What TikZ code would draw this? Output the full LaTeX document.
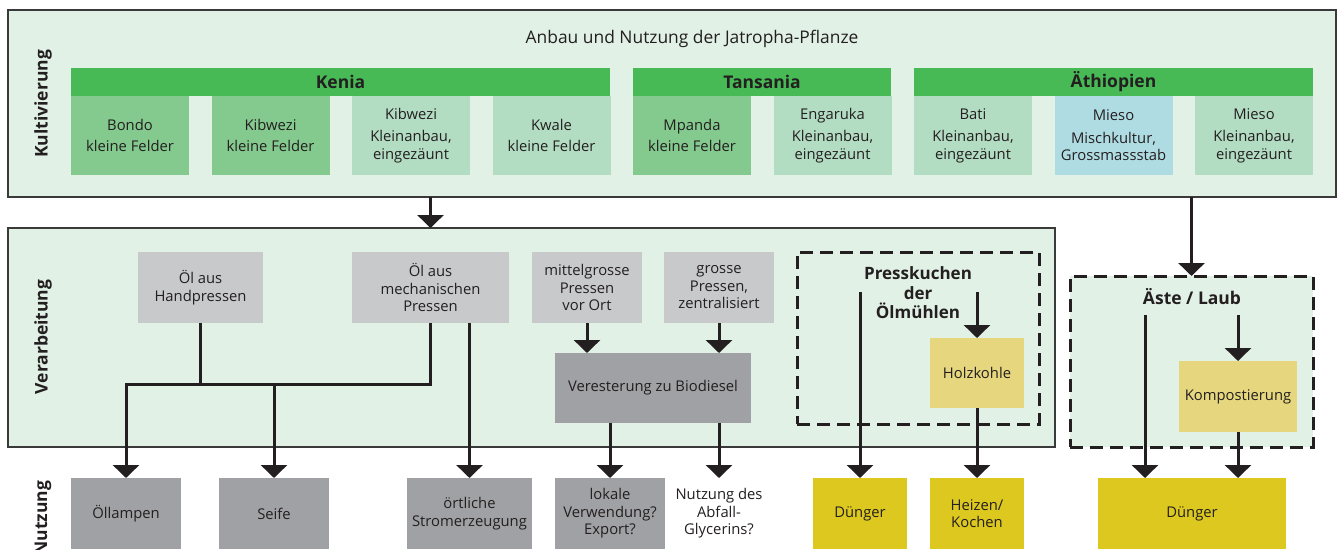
\documentclass[tikz,border=0pt]{standalone}
\usepackage{fontspec}
\setmainfont{Open Sans}
\usepackage{tikz}
\usetikzlibrary{positioning, arrows.meta}

\definecolor{bggreen}{HTML}{E1F1E6}
\definecolor{bargreen}{HTML}{47B955}
\definecolor{midgreen}{HTML}{84C98E}
\definecolor{lightgreen}{HTML}{B3DDC3}
\definecolor{lightblue}{HTML}{AFDCE3}
\definecolor{lightgray}{HTML}{C8C9CB}
\definecolor{darkgray}{HTML}{A0A1A4}
\definecolor{khaki}{HTML}{E6D77F}
\definecolor{mustard}{HTML}{DCC81F}
\definecolor{ink}{HTML}{231F20}
\definecolor{frame}{HTML}{3A3A3A}

\begin{document}
\begin{tikzpicture}[x=1pt, y=-1pt, node distance=22.5pt, text=ink,
    font=\fontsize{14.8}{17.5}\selectfont]
    \tikzstyle{panel} = [rectangle, draw=frame, line width=2pt, fill=bggreen, inner sep=0pt, outer sep=0pt]
    \tikzstyle{dashbox} = [rectangle, draw=ink, line width=3pt, dash pattern=on 13pt off 7pt, inner sep=0pt, outer sep=0pt]
    \tikzstyle{bar} = [rectangle, fill=bargreen, minimum height=28pt, inner sep=0pt, outer sep=0pt, font=\fontsize{17.5}{19}\selectfont\bfseries]
    \tikzstyle{site} = [rectangle, minimum width=118pt, minimum height=79pt, inner sep=0pt, outer sep=0pt, align=center]
    \tikzstyle{block} = [rectangle, fill=lightgray, minimum height=71pt, inner sep=0pt, outer sep=0pt, align=center]
    \tikzstyle{use} = [rectangle, fill=darkgray, minimum height=71pt, inner sep=0pt, outer sep=0pt, align=center]
    \tikzstyle{side} = [rotate=90, font=\fontsize{17.5}{19}\selectfont\bfseries]
    \tikzstyle{line} = [draw=ink, line width=3pt]
    \tikzstyle{arrow} = [line, -{Triangle[width=26pt, length=13pt]}]

    \useasboundingbox (0,0) rectangle (1343,549);

    % Kultivierung
    \node [panel, minimum width=1328pt, minimum height=187pt] (kult) at (672,103.5) {};
    \node (title) at (692,39) {\fontsize{17.4}{19}\selectfont Anbau und Nutzung der Jatropha-Pflanze};
    \node [side] (kultlbl) at (43,104) {Kultivierung};

    \node [site, fill=midgreen, anchor=north west] (bondo) at (71,96) {Bondo\\[3pt]kleine Felder};
    \node [site, fill=midgreen, right=of bondo] (kibweziA) {Kibwezi\\[3pt]kleine Felder};
    \node [site, fill=lightgreen, right=of kibweziA] (kibweziB) {Kibwezi\\[5pt]Kleinanbau,\\eingezäunt};
    \node [site, fill=lightgreen, right=of kibweziB] (kwale) {Kwale\\[3pt]kleine Felder};
    \node [site, fill=midgreen, right=of kwale] (mpanda) {Mpanda\\[3pt]kleine Felder};
    \node [site, fill=lightgreen, right=of mpanda] (engaruka) {Engaruka\\[5pt]Kleinanbau,\\eingezäunt};
    \node [site, fill=lightgreen, right=of engaruka] (bati) {Bati\\[5pt]Kleinanbau,\\eingezäunt};
    \node [site, fill=lightblue, right=of bati] (miesoA) {Mieso\\[5pt]Mischkultur,\\Grossmassstab};
    \node [site, fill=lightgreen, right=of miesoA] (miesoB) {Mieso\\[5pt]Kleinanbau,\\eingezäunt};

    \node [bar, minimum width=539pt, anchor=south west] (kenia) at (bondo.north west) {Kenia};
    \node [bar, minimum width=258pt, anchor=south west] (tansania) at (mpanda.north west) {Tansania};
    \node [bar, minimum width=399pt, anchor=south west] (aethiopien) at (bati.north west) {Äthiopien};

    % Verarbeitung
    \node [panel, minimum width=1047pt, minimum height=219pt] (verarb) at (531.5,337.5) {};
    \node [side] (verarblbl) at (43,337) {Verarbeitung};

    \node [block, minimum width=125pt] (hand) at (200.5,287.5) {Öl aus\\Handpressen};
    \node [block, minimum width=157pt] (mech) at (430.5,287.5) {Öl aus\\mechanischen\\Pressen};
    \node [block, minimum width=110pt] (mittel) at (587,287.5) {mittelgrosse\\Pressen\\vor Ort};
    \node [block, minimum width=110pt] (gross) at (719,287.5) {grosse\\Pressen,\\zentralisiert};
    \node [use, minimum width=196pt, minimum height=70pt] (veres) at (653,388) {Veresterung zu Biodiesel};

    \node [dashbox, minimum width=242pt, minimum height=172pt] (press) at (918,338) {};
    \node [font=\fontsize{17}{19.5}\selectfont\bfseries, align=center] (presslbl) at (918,293) {Presskuchen\\der\\Ölmühlen};
    \node [block, fill=khaki, minimum width=94pt, minimum height=70pt] (holz) at (977,373) {Holzkohle};

    \node [dashbox, fill=bggreen, minimum width=243pt, minimum height=171pt] (aeste) at (1191.5,361.5) {};
    \node [font=\fontsize{17.5}{19}\selectfont\bfseries] (aestelbl) at (1192,297) {Äste / Laub};
    \node [block, fill=khaki, minimum width=118pt] (kompost) at (1238,396.5) {Kompostierung};

    % Nutzung
    \node [side] (nutzlbl) at (43,518) {Nutzung};
    \node [use, minimum width=110pt] (lampen) at (126,513.5) {Öllampen};
    \node [use, minimum width=110pt] (seife) at (274,513.5) {Seife};
    \node [use, minimum width=125pt] (strom) at (469.5,513.5) {örtliche\\Stromerzeugung};
    \node [use, minimum width=110pt] (lokal) at (610,513.5) {lokale\\Verwendung?\\Export?};
    \node [use, fill=none, minimum width=110pt] (glyc) at (719,513.5) {Nutzung des\\Abfall-\\Glycerins?};
    \node [use, fill=mustard, minimum width=94pt] (duengerA) at (860,513.5) {Dünger};
    \node [use, fill=mustard, minimum width=94pt] (heizen) at (977,513.5) {Heizen/\\Kochen};
    \node [use, fill=mustard, minimum width=188pt] (duengerB) at (1192,513.5) {Dünger};

    \coordinate (junction) at (0,384);
    \coordinate (pk) at (918,292);
    \coordinate (al) at (1192,315);

    \draw [arrow] (kult.south -| mech.north) -- (verarb.north -| mech.north);
    \draw [arrow] (kult.south -| aeste.north) -- (aeste.north);

    \draw [line] (hand.south) -- (hand.south |- junction);
    \draw [arrow] (mech.south) |- (lampen.north |- junction) -- (lampen.north);
    \draw [arrow] (seife.north |- junction) -- (seife.north);
    \draw [arrow] (mech.south -| strom.north) -- (strom.north);
    \draw [arrow] (mittel.south) -- (mittel.south |- veres.north);
    \draw [arrow] (gross.south) -- (gross.south |- veres.north);
    \draw [arrow] (veres.south -| lokal.north) -- (lokal.north);
    \draw [arrow] (veres.south -| glyc.north) -- (glyc.north);

    \draw [arrow] (pk -| duengerA.north) -- (duengerA.north);
    \draw [arrow] (pk -| holz.north) -- (holz.north);
    \draw [arrow] (holz.south) -- (heizen.north);

    \draw [arrow] ([xshift=-47pt]duengerB.north |- al) -- ([xshift=-47pt]duengerB.north);
    \draw [arrow] (al -| kompost.north) -- (kompost.north);
    \draw [arrow] (kompost.south) -- (kompost.south |- duengerB.north);
\end{tikzpicture}
\end{document}
